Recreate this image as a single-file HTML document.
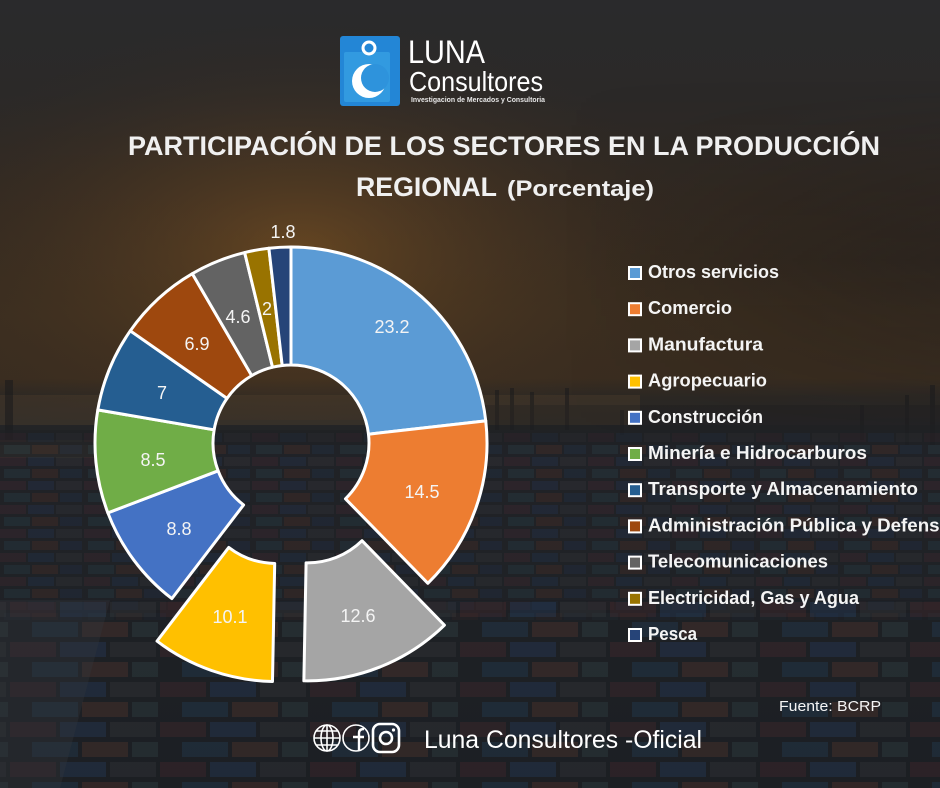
<!DOCTYPE html>
<html>
<head>
<meta charset="utf-8">
<style>
  html,body{margin:0;padding:0;background:#222;}
  body{width:940px;height:788px;overflow:hidden;}
  svg{display:block;}
  .t{font-family:"Liberation Sans",sans-serif;}
</style>
</head>
<body>
<svg width="940" height="788" viewBox="0 0 940 788" xmlns="http://www.w3.org/2000/svg">
  <defs>
    <linearGradient id="bg" x1="0" y1="0" x2="0" y2="1">
      <stop offset="0" stop-color="#2a2a2c"/>
      <stop offset="0.12" stop-color="#2b2928"/>
      <stop offset="0.25" stop-color="#332a22"/>
      <stop offset="0.40" stop-color="#3b2e20"/>
      <stop offset="0.48" stop-color="#3a2d20"/>
      <stop offset="0.505" stop-color="#2c2824"/>
      <stop offset="0.56" stop-color="#25262a"/>
      <stop offset="1" stop-color="#1d2025"/>
    </linearGradient>
    <radialGradient id="glow" cx="300" cy="250" r="330" gradientUnits="userSpaceOnUse" gradientTransform="translate(300 250) scale(1.2 0.7) translate(-300 -250)">
      <stop offset="0" stop-color="#8a5a22" stop-opacity="0.55"/>
      <stop offset="0.5" stop-color="#6a4620" stop-opacity="0.25"/>
      <stop offset="1" stop-color="#3a2a1c" stop-opacity="0"/>
    </radialGradient>
    <linearGradient id="rdark" x1="0" y1="0" x2="1" y2="0">
      <stop offset="0" stop-color="#000" stop-opacity="0"/>
      <stop offset="0.6" stop-color="#000" stop-opacity="0"/>
      <stop offset="1" stop-color="#101218" stop-opacity="0.3"/>
    </linearGradient>
    <linearGradient id="vfade" x1="0" y1="0" x2="0" y2="1">
      <stop offset="0" stop-color="#fff" stop-opacity="0"/>
      <stop offset="0.5" stop-color="#fff" stop-opacity="1"/>
      <stop offset="1" stop-color="#fff" stop-opacity="0"/>
    </linearGradient>
    <mask id="m1"><rect x="0" y="80" width="940" height="360" fill="url(#vfade)"/></mask>
    <pattern id="cont" x="0" y="0" width="84" height="24" patternUnits="userSpaceOnUse">
      <rect width="84" height="24" fill="#1c1f24"/>
      <rect x="0" y="1" width="26" height="9" fill="#33232a"/>
      <rect x="28" y="1" width="26" height="9" fill="#1f2c40"/>
      <rect x="56" y="1" width="26" height="9" fill="#2a2c30"/>
      <rect x="4" y="13" width="26" height="9" fill="#22323a"/>
      <rect x="32" y="13" width="26" height="9" fill="#3a2824"/>
      <rect x="60" y="13" width="22" height="9" fill="#1d293a"/>
    </pattern>
    <pattern id="cont2" x="10" y="0" width="150" height="40" patternUnits="userSpaceOnUse">
      <rect width="150" height="40" fill="#1b1e22"/>
      <rect x="0" y="2" width="46" height="15" fill="#352428"/>
      <rect x="50" y="2" width="46" height="15" fill="#213046"/>
      <rect x="100" y="2" width="46" height="15" fill="#2a2c30"/>
      <rect x="22" y="22" width="46" height="15" fill="#1f3142"/>
      <rect x="72" y="22" width="46" height="15" fill="#3e2c28"/>
      <rect x="122" y="22" width="26" height="15" fill="#283437"/>
    </pattern>
  </defs>

  <!-- background -->
  <rect width="940" height="788" fill="url(#bg)"/>
  <rect width="940" height="420" fill="url(#glow)"/>
  <rect y="80" width="940" height="360" fill="url(#rdark)" mask="url(#m1)"/>
  <!-- horizon water -->
  <rect x="0" y="395" width="640" height="30" fill="#5a4530" opacity="0.3"/>
  <rect x="0" y="440" width="110" height="18" fill="#5a4a35" opacity="0.25"/>
  <!-- cranes skyline -->
  <g fill="#1a1a1c" opacity="0.55">
    <rect x="5" y="380" width="8" height="60"/>
    <rect x="495" y="390" width="4" height="40"/>
    <rect x="510" y="388" width="4" height="42"/>
    <rect x="530" y="392" width="4" height="38"/>
    <rect x="565" y="388" width="4" height="42"/>
    <rect x="620" y="410" width="4" height="25"/>
    <rect x="860" y="405" width="4" height="35"/>
    <rect x="905" y="395" width="4" height="50"/>
    <rect x="930" y="385" width="5" height="60"/>
    <rect x="440" y="405" width="500" height="25" opacity="0.5"/>
  </g>
  <!-- containers -->
  <rect x="0" y="430" width="940" height="190" fill="url(#cont)" opacity="0.5"/>
  <rect x="0" y="600" width="940" height="188" fill="url(#cont2)" opacity="0.6"/>
  <polygon points="0,600 110,600 60,788 0,788" fill="#34373b" opacity="0.35"/>
  <rect x="0" y="425" width="940" height="20" fill="#1e2024" opacity="0.4"/>

  <!-- logo -->
  <rect x="340" y="36" width="60" height="70" rx="3" fill="#2386d6"/>
  <rect x="344" y="52" width="46" height="50" rx="2" fill="#39a2e4" opacity="0.7"/>
  <circle cx="369" cy="81" r="17" fill="#ffffff"/>
  <circle cx="375" cy="78" r="14" fill="#2e93dc"/>
  <circle cx="369" cy="48" r="6" fill="none" stroke="#ffffff" stroke-width="3"/>
  <text class="t" x="408" y="63" font-size="32" fill="#ffffff" textLength="77" lengthAdjust="spacingAndGlyphs">LUNA</text>
  <text class="t" x="409" y="91" font-size="28" fill="#ffffff" textLength="134" lengthAdjust="spacingAndGlyphs">Consultores</text>
  <text class="t" x="411" y="102" font-size="7.5" font-weight="bold" fill="#e8e8e8" textLength="134" lengthAdjust="spacingAndGlyphs">Investigacion de Mercados y Consultoria</text>

  <!-- title -->
  <text class="t" x="128" y="155" font-size="27" font-weight="bold" fill="#f0f0f0" textLength="752" lengthAdjust="spacingAndGlyphs">PARTICIPACIÓN DE LOS SECTORES EN LA PRODUCCIÓN</text>
  <text class="t" x="356" y="196" font-size="27" font-weight="bold" fill="#f0f0f0" textLength="141" lengthAdjust="spacingAndGlyphs">REGIONAL</text>
  <text class="t" x="507" y="196" font-size="22" font-weight="bold" fill="#f0f0f0" textLength="147" lengthAdjust="spacingAndGlyphs">(Porcentaje)</text>

  <!-- donut -->
  <g stroke="#ffffff" stroke-width="3" stroke-linejoin="round">
    <path fill="#5B9BD5" d="M291,247 A196,196 0 0 1 485.75,420.88 L368.50,434.20 A78,78 0 0 0 291,365 Z"/>
    <path fill="#ED7D31" d="M485.75,420.88 A196,196 0 0 1 427.86,583.30 L345.47,498.83 A78,78 0 0 0 368.50,434.20 Z"/>
    <path fill="#A5A5A5" transform="translate(16.56,41.84)" d="M427.86,583.30 A196,196 0 0 1 287.31,638.96 L289.53,520.99 A78,78 0 0 0 345.47,498.83 Z"/>
    <path fill="#FFC000" transform="translate(-14.84,42.48)" d="M287.31,638.96 A196,196 0 0 1 171.85,598.62 L243.58,504.93 A78,78 0 0 0 289.53,520.99 Z"/>
    <path fill="#4472C4" d="M171.85,598.62 A196,196 0 0 1 107.87,512.86 L218.12,470.80 A78,78 0 0 0 243.58,504.93 Z"/>
    <path fill="#70AD47" d="M107.87,512.86 A196,196 0 0 1 97.81,409.91 L214.12,429.83 A78,78 0 0 0 218.12,470.80 Z"/>
    <path fill="#255E91" d="M97.81,409.91 A196,196 0 0 1 130.29,330.81 L227.04,398.35 A78,78 0 0 0 214.12,429.83 Z"/>
    <path fill="#9E480E" d="M130.29,330.81 A196,196 0 0 1 192.29,273.67 L251.72,375.61 A78,78 0 0 0 227.04,398.35 Z"/>
    <path fill="#636363" d="M192.29,273.67 A196,196 0 0 1 244.65,252.56 L272.55,367.21 A78,78 0 0 0 251.72,375.61 Z"/>
    <path fill="#997300" d="M244.65,252.56 A196,196 0 0 1 268.88,248.25 L282.20,365.50 A78,78 0 0 0 272.55,367.21 Z"/>
    <path fill="#264478" d="M268.88,248.25 A196,196 0 0 1 291,247 L291,365 A78,78 0 0 0 282.20,365.50 Z"/>
  </g>

  <!-- data labels -->
  <g class="t" font-size="18" fill="#f4f4f4" text-anchor="middle">
    <text x="392" y="333">23.2</text>
    <text x="422" y="498">14.5</text>
    <text x="358" y="622">12.6</text>
    <text x="230" y="623">10.1</text>
    <text x="179" y="535">8.8</text>
    <text x="153" y="466">8.5</text>
    <text x="162" y="399">7</text>
    <text x="197" y="350">6.9</text>
    <text x="238" y="323">4.6</text>
    <text x="267" y="315">2</text>
    <text x="283" y="238">1.8</text>
  </g>

  <!-- legend -->
  <g stroke="#ffffff" stroke-width="2">
    <rect x="629" y="267" width="12" height="12" fill="#5B9BD5"/>
    <rect x="629" y="303.2" width="12" height="12" fill="#ED7D31"/>
    <rect x="629" y="339.4" width="12" height="12" fill="#A5A5A5"/>
    <rect x="629" y="375.6" width="12" height="12" fill="#FFC000"/>
    <rect x="629" y="411.8" width="12" height="12" fill="#4472C4"/>
    <rect x="629" y="448" width="12" height="12" fill="#70AD47"/>
    <rect x="629" y="484.2" width="12" height="12" fill="#255E91"/>
    <rect x="629" y="520.4" width="12" height="12" fill="#9E480E"/>
    <rect x="629" y="556.6" width="12" height="12" fill="#636363"/>
    <rect x="629" y="592.8" width="12" height="12" fill="#997300"/>
    <rect x="629" y="629" width="12" height="12" fill="#264478"/>
  </g>
  <g class="t" font-size="18" font-weight="bold" fill="#f4f4f4">
    <text x="648" y="278" textLength="131" lengthAdjust="spacingAndGlyphs">Otros servicios</text>
    <text x="648" y="314.2" textLength="84" lengthAdjust="spacingAndGlyphs">Comercio</text>
    <text x="648" y="350.4" textLength="115" lengthAdjust="spacingAndGlyphs">Manufactura</text>
    <text x="648" y="386.6" textLength="119" lengthAdjust="spacingAndGlyphs">Agropecuario</text>
    <text x="648" y="422.8" textLength="115" lengthAdjust="spacingAndGlyphs">Construcción</text>
    <text x="648" y="459" textLength="219" lengthAdjust="spacingAndGlyphs">Minería e Hidrocarburos</text>
    <text x="648" y="495.2" textLength="270" lengthAdjust="spacingAndGlyphs">Transporte y Almacenamiento</text>
    <text x="648" y="531.4" textLength="302" lengthAdjust="spacingAndGlyphs">Administración Pública y Defensa</text>
    <text x="648" y="567.6" textLength="180" lengthAdjust="spacingAndGlyphs">Telecomunicaciones</text>
    <text x="648" y="603.8" textLength="211" lengthAdjust="spacingAndGlyphs">Electricidad, Gas y Agua</text>
    <text x="648" y="640" textLength="49" lengthAdjust="spacingAndGlyphs">Pesca</text>
  </g>

  <!-- source -->
  <text class="t" x="779" y="711" font-size="15" fill="#f4f4f4" textLength="102" lengthAdjust="spacingAndGlyphs">Fuente: BCRP</text>

  <!-- footer icons -->
  <g fill="none" stroke="#ffffff" stroke-width="1.6">
    <circle cx="327" cy="738" r="13"/>
    <ellipse cx="327" cy="738" rx="6" ry="13"/>
    <line x1="327" y1="725" x2="327" y2="751"/>
    <line x1="314" y1="738" x2="340" y2="738"/>
    <line x1="316" y1="731" x2="338" y2="731"/>
    <line x1="316" y1="745" x2="338" y2="745"/>
    <circle cx="356" cy="738" r="13"/>
    <path d="M359,751 L359,733 Q359,729 364,729 M353,737 L364,737" stroke-width="2.4"/>
    <rect x="373" y="724" width="26" height="28" rx="7" stroke-width="2.6"/>
    <circle cx="386" cy="738" r="6" stroke-width="2.6"/>
  </g>
  <circle cx="393.5" cy="730" r="1.6" fill="#ffffff"/>
  <text class="t" x="424" y="748" font-size="25" fill="#ffffff" textLength="278" lengthAdjust="spacingAndGlyphs">Luna Consultores -Oficial</text>
</svg>
</body>
</html>
